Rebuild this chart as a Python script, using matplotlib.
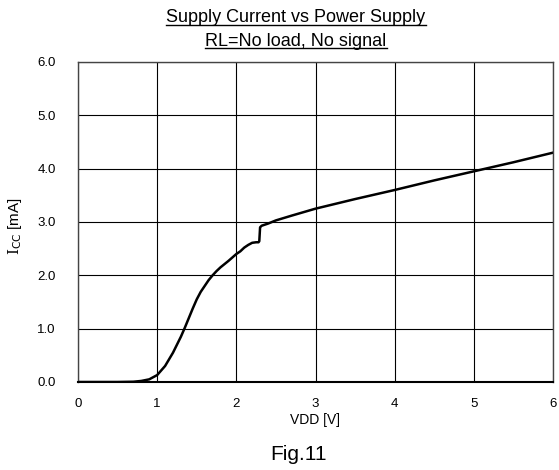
import matplotlib
matplotlib.use("Agg")
import matplotlib.pyplot as plt
from matplotlib.lines import Line2D

plt.rcParams['font.family'] = ['Liberation Sans', 'DejaVu Sans']
plt.rcParams['mathtext.fontset'] = 'dejavuserif'

# supply voltage [V] and supply current [mA]
vdd = [0.0, 0.5, 0.7, 0.8, 0.9, 1.0, 1.1, 1.2, 1.3, 1.35, 1.4, 1.45, 1.5,
       1.55, 1.6, 1.65, 1.7, 1.75, 1.8, 1.9, 2.0, 2.05, 2.1, 2.15, 2.2, 2.25,
       2.28, 2.29, 2.30, 2.32, 2.4, 2.5, 2.7, 3.0, 3.5, 4.0, 4.5, 5.0, 5.5, 6.0]
icc = [0.0, 0.0, 0.005, 0.02, 0.05, 0.13, 0.3, 0.55, 0.85, 1.02, 1.2, 1.38,
       1.55, 1.69, 1.8, 1.91, 2.0, 2.08, 2.15, 2.27, 2.4, 2.45, 2.52, 2.57,
       2.61, 2.62, 2.62, 2.64, 2.9, 2.93, 2.97, 3.03, 3.12, 3.25, 3.43, 3.6,
       3.78, 3.95, 4.12, 4.3]

xticks = [0, 1, 2, 3, 4, 5, 6]
yticks = [0, 1, 2, 3, 4, 5, 6]
ytick_labels = ["0.0", "1.0", "2.0", "3.0", "4.0", "5.0", "6.0"]

title1 = "Supply Current vs Power Supply"
title2 = "RL=No load, No signal"

fig = plt.figure(figsize=(5.59, 4.70), dpi=100)
ax = fig.add_axes([78/559, 1-382/470, (553-78)/559, (382-62)/470])

ax.plot(vdd, icc, color="black", lw=1.8, solid_joinstyle="round")

ax.set_xlim(0, 6)
ax.set_ylim(0, 6)
ax.set_xticks(xticks)
ax.set_yticks(yticks)
ax.set_yticklabels(ytick_labels)
ax.tick_params(length=0, labelsize=9.5)
ax.tick_params(axis="y", pad=16)
ax.tick_params(axis="x", pad=11.5)
ax.grid(True, color="black", lw=0.8)
for s in ax.spines.values():
    s.set_color("#444444")
    s.set_linewidth(1.0)
ax.spines["bottom"].set_color("black")
ax.spines["bottom"].set_linewidth(1.5)

ax.set_xlabel("VDD [V]", fontsize=10, labelpad=2)
fig.text(15/559, 1-226/470, r"$\mathrm{I}_{\mathsf{CC}}$ [mA]", rotation=90,
         ha="center", va="center", fontsize=11)

t1 = fig.text(296/559, 1-22.5/470, title1, ha="center", va="baseline", fontsize=13)
t2 = fig.text(296/559, 1-45.5/470, title2, ha="center", va="baseline", fontsize=13)
fig.text(299/559, 1-454/470, "Fig.11", ha="center", va="center", fontsize=15)

# underline the title lines, just under the baseline
fig.canvas.draw()
r = fig.canvas.get_renderer()
for t, base in [(t1, 22.5), (t2, 45.5)]:
    bb = t.get_window_extent(r).transformed(fig.transFigure.inverted())
    yl = 1 - (base + 2.5) / 470
    fig.add_artist(Line2D([bb.x0, bb.x1], [yl, yl], color="black", lw=1.0,
                          transform=fig.transFigure))

fig.savefig("out.png", dpi=100)
